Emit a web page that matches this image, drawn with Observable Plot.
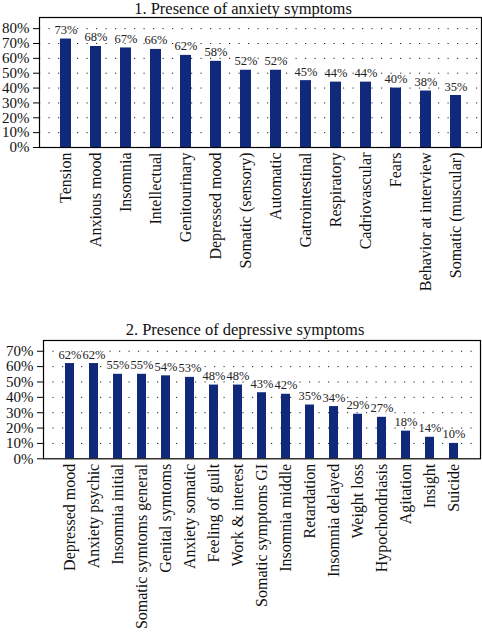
<!DOCTYPE html>
<html>
<head>
<meta charset="utf-8">
<script src="https://cdn.jsdelivr.net/npm/d3@7"></script>
<script src="https://cdn.jsdelivr.net/npm/@observablehq/plot@0.6"></script>
<style>
  html, body { margin: 0; padding: 0; background: #fff; }
  #wrap { position: relative; width: 482px; height: 633px; overflow: hidden; font-family: "Liberation Serif", "DejaVu Serif", serif; background: #fff; }
  .title { position: absolute; left: 0; width: 482px; text-align: center; font-size: 16.5px; color: #111; line-height: 17px; white-space: nowrap; z-index: 2; }
  .chart { position: absolute; left: 0; z-index: 1; }
</style>
</head>
<body>
<div id="wrap"></div>
<script>
const anxietyCategories = ["Tension", "Anxious mood", "Insomnia", "Intellectual", "Genitourinary", "Depressed mood", "Somatic (sensory)", "Automatic", "Gatrointestinal", "Respiratory", "Cadriovascular", "Fears", "Behavior at interview", "Somatic (muscular)"];
const anxietyValues = [73, 68, 67, 66, 62, 58, 52, 52, 45, 44, 44, 40, 38, 35];

const depressionCategories = ["Depressed mood", "Anxiety psychic", "Insomnia initial", "Somatic symtoms general", "Genital symtoms", "Anxiety somatic", "Feeling of guilt", "Work & interest", "Somatic symptoms GI", "Insomnia middle", "Retardation", "Insomnia delayed", "Weight loss", "Hypochondriasis", "Agitation", "Insight", "Suicide"];
const depressionValues = [62, 62, 55, 55, 54, 53, 48, 48, 43, 42, 35, 34, 29, 27, 18, 14, 10];

const anxietyTicks = [0, 10, 20, 30, 40, 50, 60, 70, 80];
const depressionTicks = [0, 10, 20, 30, 40, 50, 60, 70];

const titles = ["1. Presence of anxiety symptoms", "2. Presence of depressive symptoms"];

const BAR = "#10297a";

function chart(cats, vals, ticks, opts) {
  const data = cats.map((c, i) => ({cat: c, v: vals[i]}));
  return Plot.plot({
    width: 482,
    height: opts.height,
    marginTop: opts.mt,
    marginLeft: opts.ml,
    marginRight: opts.mr,
    marginBottom: opts.mb,
    style: {fontFamily: "'Liberation Serif', 'DejaVu Serif', serif", background: "transparent", color: "#111"},
    x: {domain: cats, padding: opts.pad, align: 0.5, label: null},
    y: {domain: [0, opts.ymax], label: null},
    marks: [
      Plot.ruleY(ticks.filter(t => t > 0), {stroke: "#222", strokeWidth: 1, strokeDasharray: "1.2,8.3"}),
      Plot.barY(data, {x: "cat", y: "v", fill: BAR}),
      Plot.text(data, {x: "cat", y: "v", text: d => d.v + "%", dy: -9, fontSize: 12.5, fill: "#222", stroke: "#fff", strokeWidth: 2, paintOrder: "stroke"}),
      Plot.axisY({ticks: ticks, tickFormat: d => d + "%", tickSize: 6, tickPadding: 4, fontSize: 15, label: null, stroke: "#000", fill: "#111"}),
      Plot.axisX({tickSize: 0, tickPadding: 5, tickRotate: -90, fontSize: 16, label: null, fill: "#111"}),
      Plot.frame({stroke: "#000", strokeWidth: 1.2})
    ]
  });
}

const wrap = document.getElementById("wrap");

const c1 = chart(anxietyCategories, anxietyValues, anxietyTicks, {height: 318, mt: 17, ml: 39, mr: 1, mb: 171, pad: 0.65, ymax: 87.5});
c1.classList.add("chart"); c1.style.top = "0px";
wrap.appendChild(c1);

const c2 = chart(depressionCategories, depressionValues, depressionTicks, {height: 313, mt: 20, ml: 43, mr: 2, mb: 174.7, pad: 0.64, ymax: 77});
c2.classList.add("chart"); c2.style.top = "320px";
wrap.appendChild(c2);

const t1 = document.createElement("div");
t1.className = "title"; t1.textContent = titles[0];
t1.style.top = "0px"; t1.style.left = "2px";
wrap.appendChild(t1);

const t2 = document.createElement("div");
t2.className = "title"; t2.textContent = titles[1];
t2.style.top = "321px"; t2.style.left = "4px";
wrap.appendChild(t2);
</script>
</body>
</html>
